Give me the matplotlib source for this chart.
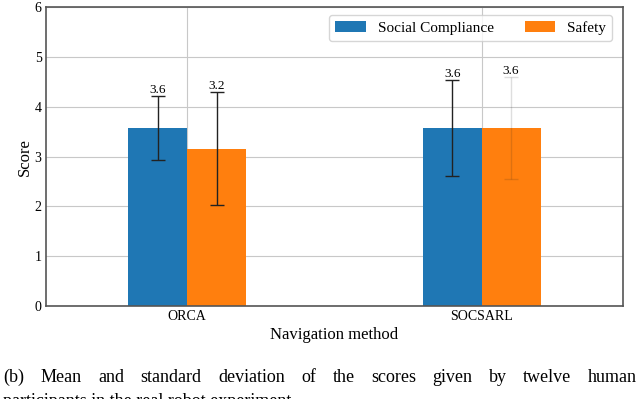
import matplotlib
matplotlib.use("Agg")
import matplotlib.pyplot as plt
import numpy as np

plt.rcParams['font.family'] = ['Liberation Serif', 'DejaVu Serif']

# data
methods = ["ORCA", "SOCSARL"]
social_mean = [3.58, 3.57]
social_std = [0.64, 0.96]
safety_mean = [3.16, 3.57]
safety_std = [1.14, 1.02]
social_lbl = ["3.6", "3.6"]
safety_lbl = ["3.2", "3.6"]

caption1 = "(b) Mean and standard deviation of the scores given by twelve human"
caption2 = "participants in the real robot experiment."

fig = plt.figure(figsize=(6.4, 3.99), dpi=100)
ax = fig.add_axes([0.0714, 0.233, 0.902, 0.749])

x = np.arange(len(methods))
w = 0.2

ax.bar(x - w/2, social_mean, w, color="#1f77b4", label="Social Compliance", zorder=2)
ax.bar(x + w/2, safety_mean, w, color="#ff7f0e", label="Safety", zorder=2)

# error bars
ax.errorbar(x - w/2, social_mean, yerr=social_std, fmt="none", ecolor="#222222",
            elinewidth=1, capsize=5, zorder=3)
ax.errorbar(x[0] + w/2, safety_mean[0], yerr=safety_std[0], fmt="none", ecolor="#222222",
            elinewidth=1, capsize=5, zorder=3)
ax.errorbar(x[1] + w/2, safety_mean[1], yerr=safety_std[1], fmt="none", ecolor="#222222",
            elinewidth=1, capsize=5, alpha=0.15, zorder=3)

for i in range(len(methods)):
    ax.text(x[i] - w/2, social_mean[i] + social_std[i], social_lbl[i],
            ha="center", va="bottom", fontsize=9.5)
    ax.text(x[i] + w/2, safety_mean[i] + safety_std[i], safety_lbl[i],
            ha="center", va="bottom", fontsize=9.5)

ax.set_xlim(-0.48, 1.48)
ax.set_ylim(0, 6)
ax.set_xticks(x)
ax.set_xticklabels(methods, fontsize=10)
ax.set_yticks(range(7))
ax.tick_params(axis="both", length=0, labelsize=10, pad=3)
ax.grid(True, color="#c8c8c8", linewidth=0.8, zorder=0)
ax.set_axisbelow(True)
for s in ax.spines.values():
    s.set_color("#555555")
    s.set_linewidth(1.2)

ax.set_xlabel("Navigation method", fontsize=12, labelpad=3)
ax.set_ylabel("Score", fontsize=12, labelpad=1)

ax.legend(loc="upper right", ncol=2, fontsize=11, handlelength=2.0,
          handletextpad=0.8, columnspacing=2.0, frameon=True, fancybox=True,
          bbox_to_anchor=(0.995, 1.0), borderpad=0.4)

# justified caption line
fig.canvas.draw()
r = fig.canvas.get_renderer()
words = caption1.split()
objs = [fig.text(0, 0.05, wd, fontsize=13) for wd in words]
widths = [o.get_window_extent(renderer=r).width for o in objs]
x0, x1 = 3, 637
gap = (x1 - x0 - sum(widths)) / (len(words) - 1)
pos = x0
for o, wd in zip(objs, widths):
    o.set_x(pos / 640)
    o.set_y(1 - 382 / 399)
    pos += wd + gap
fig.text(3 / 640, 1 - 406 / 399, caption2, fontsize=13)

fig.savefig("out.png", dpi=100)
